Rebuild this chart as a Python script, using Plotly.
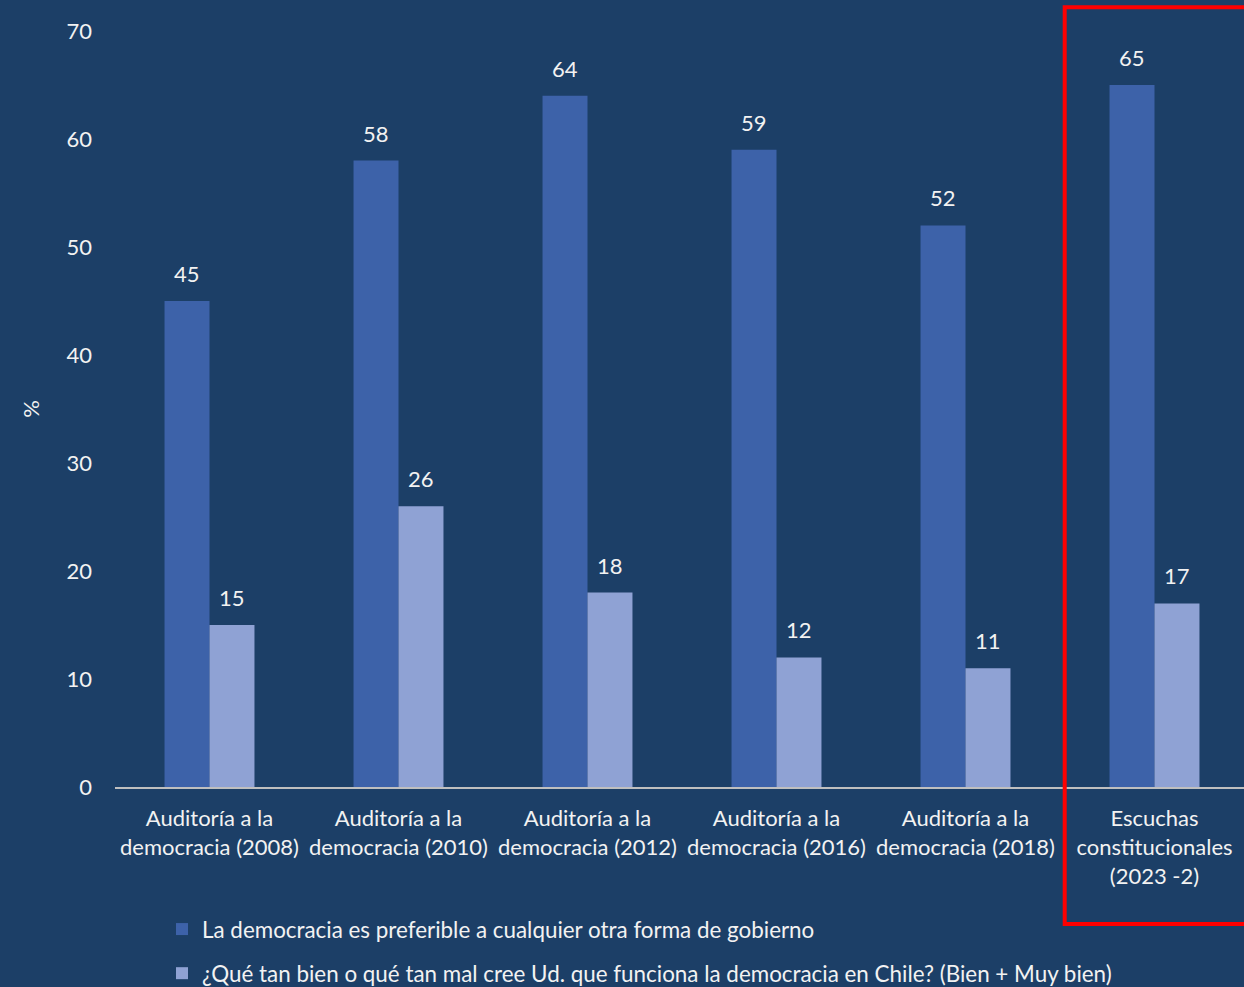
import plotly.graph_objects as go

categories = [
    "Auditoría a la<br>democracia (2008)",
    "Auditoría a la<br>democracia (2010)",
    "Auditoría a la<br>democracia (2012)",
    "Auditoría a la<br>democracia (2016)",
    "Auditoría a la<br>democracia (2018)",
    "Escuchas<br>constitucionales<br>(2023 -2)",
]
serie_preferible = [45, 58, 64, 59, 52, 65]
serie_funciona = [15, 26, 18, 12, 11, 17]
nombre_1 = "La democracia es preferible a cualquier otra forma de gobierno"
nombre_2 = "¿Qué tan bien o qué tan mal cree Ud. que funciona la democracia en Chile? (Bien + Muy bien)"
y_ticks = [0, 10, 20, 30, 40, 50, 60, 70]

BG = "#1C3F67"
TXT = "#F2F2F2"
FONT = "Lato"
FS = 22

fig = go.Figure()
fig.add_trace(go.Bar(
    x=categories, y=serie_preferible, name=nombre_1, legendgroup="a",
    marker=dict(color="#3D62A9", line=dict(width=0)),
))
fig.add_trace(go.Bar(
    x=categories, y=serie_funciona, name=nombre_2, legendgroup="b",
    marker=dict(color="#8FA2D4", line=dict(width=0)),
))

annotations = []
for serie, shift in ((serie_preferible, -22.5), (serie_funciona, 22.5)):
    for cat, val in zip(categories, serie):
        annotations.append(dict(
            x=cat, y=val, xref="x", yref="y", text=str(val), showarrow=False,
            xshift=shift, yshift=12, yanchor="bottom",
            font=dict(size=FS, color=TXT, family=FONT),
        ))

# figure is slightly taller than the 987 px window; the extra strip is below view
W, H = 1244, 1020
AXIS_Y = 787
ml, mt, mb = 115, 31, H - AXIS_Y
pw, ph = W - ml, H - mt - mb

def px_x(p):
    return (p - ml) / pw

def px_y(p):
    return (AXIS_Y - p) / ph

fig.update_layout(
    width=W, height=H,
    paper_bgcolor=BG, plot_bgcolor=BG,
    margin=dict(l=ml, r=0, t=mt, b=mb),
    barmode="group", bargap=0.524, bargroupgap=0,
    font=dict(family=FONT, color=TXT, size=FS),
    showlegend=True,
    legend=dict(
        orientation="v", x=px_x(162), y=px_y(908), xanchor="left", yanchor="top",
        bgcolor="rgba(0,0,0,0)", font=dict(size=22.4, color=TXT, family=FONT),
        traceorder="grouped", tracegroupgap=12, itemwidth=30,
    ),
    xaxis=dict(
        range=[-0.5, -0.5 + pw / 189], showgrid=False, zeroline=False,
        showline=True, linecolor="#BFBFBF", linewidth=2,
        ticks="", ticklabelstandoff=11, tickfont=dict(size=FS, color=TXT, family=FONT),
    ),
    yaxis=dict(
        range=[0, 70], tickvals=y_ticks, showgrid=False, zeroline=False,
        showline=False, ticks="", ticklabelstandoff=22,
        tickfont=dict(size=FS, color=TXT, family=FONT),
        title=dict(text="%", font=dict(size=FS, color=TXT, family=FONT), standoff=20),
    ),
    annotations=annotations,
    shapes=[dict(
        type="rect", xref="paper", yref="paper",
        x0=px_x(1064.7), x1=px_x(1260), y0=px_y(924), y1=px_y(7.3),
        line=dict(color="#FF0000", width=4), fillcolor="rgba(0,0,0,0)",
        layer="above",
    )],
)

fig.write_html(
    "out.html",
    config={"displayModeBar": False},
    post_script="document.body.style.margin='0';document.body.style.overflow='hidden';",
)
